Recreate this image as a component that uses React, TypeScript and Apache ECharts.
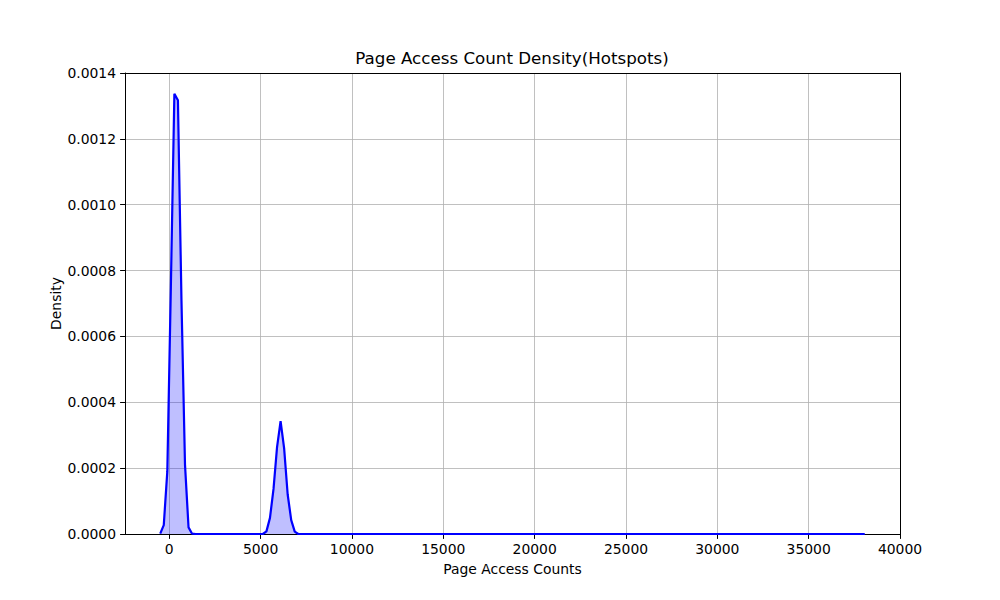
import React, { useEffect, useRef } from "react";
import * as echarts from "echarts";
import type { EChartsType, EChartsOption } from "echarts";

// KDE curve (x = page access count, y = density)
const accessCounts = [
    -495, -301, -107, 87, 280, 474, 668, 862, 1055, 1249, 1443,
    5125, 5319, 5513, 5707, 5900, 6094, 6288, 6482, 6676, 6869, 7063,
    38071,
];
const densities = [
    0.000001, 0.000027, 0.00019, 0.00075, 0.001337, 0.001317, 0.00071, 0.00021, 0.00002, 0.000001, 0,
    0, 0.000008, 0.000049, 0.000137, 0.000264, 0.000343, 0.00026, 0.00012, 0.000042, 0.000007, 0,
    0,
];

const xTicks = [0, 5000, 10000, 15000, 20000, 25000, 30000, 35000, 40000];
const X_MIN = -2423;
const X_MAX = 40000;
const Y_MAX = 0.0014;
const Y_STEP = 0.0002;

const FONT = '"DejaVu Sans", sans-serif';

// plain black spine for the top / right sides of the box
const spineAxis = {
    show: true,
    axisLine: { show: true, onZero: false, lineStyle: { color: "#000", width: 1 } },
    axisTick: { show: false },
    axisLabel: { show: false },
    splitLine: { show: false },
};

const App: React.FC = () => {
    const chartRef = useRef<HTMLDivElement | null>(null);
    const chartInstanceRef = useRef<EChartsType | null>(null);

    useEffect(() => {
        if (!chartRef.current) return;

        chartInstanceRef.current = echarts.init(chartRef.current, null, { renderer: "svg" });

        const option: EChartsOption = {
            animation: false,
            backgroundColor: "#fff",
            title: {
                text: "Page Access Count Density(Hotspots)",
                left: 512,
                top: 49,
                textAlign: "center",
                padding: 0,
                textStyle: { color: "#000", fontSize: 16.7, fontWeight: "normal", fontFamily: FONT },
            },
            grid: {
                left: 125,
                right: 100,
                top: 73,
                bottom: 66,
                show: false,
            },
            xAxis: [
                {
                    type: "value",
                    min: X_MIN,
                    max: X_MAX,
                    splitNumber: 8,
                    name: "Page Access Counts",
                    nameLocation: "middle",
                    nameGap: 28,
                    nameTextStyle: { color: "#000", fontSize: 13.9, fontFamily: FONT },
                    axisLine: { show: true, onZero: false, lineStyle: { color: "#000", width: 1 } },
                    axisTick: {
                        show: true,
                        length: 4.9,
                        customValues: xTicks,
                        lineStyle: { color: "#000", width: 1 },
                    } as any,
                    axisLabel: {
                        color: "#000",
                        fontSize: 13.9,
                        fontFamily: FONT,
                        margin: 8,
                        customValues: xTicks,
                        formatter: (v: number) => String(v),
                    } as any,
                    splitLine: { show: true, lineStyle: { color: "#b0b0b0", width: 0.8 } },
                },
                { type: "value", position: "top", min: X_MIN, max: X_MAX, ...spineAxis } as any,
            ],
            yAxis: [
                {
                    type: "value",
                    min: 0,
                    max: Y_MAX,
                    interval: Y_STEP,
                    name: "Density",
                    nameLocation: "middle",
                    nameGap: 62,
                    nameMoveOverlap: false,
                    nameTextStyle: { color: "#000", fontSize: 13.9, fontFamily: FONT },
                    axisLine: { show: true, onZero: false, lineStyle: { color: "#000", width: 1 } },
                    axisTick: { show: true, length: 4.9, lineStyle: { color: "#000", width: 1 } },
                    axisLabel: {
                        color: "#000",
                        fontSize: 13.9,
                        fontFamily: FONT,
                        margin: 9,
                        formatter: (v: number) => v.toFixed(4),
                    },
                    splitLine: { show: true, lineStyle: { color: "#b0b0b0", width: 0.8 } },
                } as any,
                { type: "value", position: "right", min: 0, max: Y_MAX, ...spineAxis } as any,
            ],
            series: [
                {
                    type: "line",
                    data: accessCounts.map((x, i) => [x, densities[i]]),
                    showSymbol: false,
                    smooth: false,
                    lineStyle: { color: "#0000ff", width: 2.2 },
                    itemStyle: { color: "#0000ff" },
                    areaStyle: { color: "#0000ff", opacity: 0.25, origin: "start" },
                    z: 3,
                },
            ],
        };

        chartInstanceRef.current.setOption(option, true);

        return () => {
            chartInstanceRef.current?.dispose();
            chartInstanceRef.current = null;
        };
    }, []);

    return (
        <div
            ref={chartRef}
            style={{
                position: "fixed",
                left: 0,
                top: 0,
                width: "1000px",
                height: "600px",
                background: "#fff",
            }}
        />
    );
};

export default App;
